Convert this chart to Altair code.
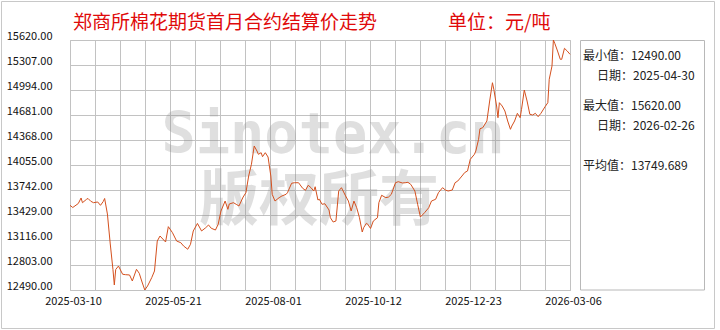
import altair as alt
import pandas as pd

# ---------------- data ----------------
dates = [
    "2025-03-10", "2025-03-12", "2025-03-16", "2025-03-18", "2025-03-19", "2025-03-22", "2025-03-23", "2025-03-25", "2025-03-27", "2025-03-30",
    "2025-04-01", "2025-04-03", "2025-04-04", "2025-04-06", "2025-04-08", "2025-04-10", "2025-04-11", "2025-04-12", "2025-04-14", "2025-04-17",
    "2025-04-19", "2025-04-22", "2025-04-24", "2025-04-27", "2025-04-29", "2025-05-01", "2025-05-03", "2025-05-05", "2025-05-08", "2025-05-10",
    "2025-05-12", "2025-05-14", "2025-05-18", "2025-05-20", "2025-05-23", "2025-05-26", "2025-05-29", "2025-05-31", "2025-06-03", "2025-06-05",
    "2025-06-07", "2025-06-10", "2025-06-13", "2025-06-16", "2025-06-18", "2025-06-20", "2025-06-23", "2025-06-25", "2025-06-27", "2025-06-30",
    "2025-07-02", "2025-07-03", "2025-07-06", "2025-07-08", "2025-07-10", "2025-07-13", "2025-07-15", "2025-07-17", "2025-07-19", "2025-07-21",
    "2025-07-23", "2025-07-24", "2025-07-26", "2025-07-27", "2025-07-29", "2025-07-31", "2025-08-02", "2025-08-03", "2025-08-05", "2025-08-08",
    "2025-08-10", "2025-08-13", "2025-08-14", "2025-08-17", "2025-08-19", "2025-08-22", "2025-08-25", "2025-08-27", "2025-08-29", "2025-08-31",
    "2025-09-02", "2025-09-03", "2025-09-05", "2025-09-06", "2025-09-08", "2025-09-10", "2025-09-13", "2025-09-14", "2025-09-16", "2025-09-18",
    "2025-09-20", "2025-09-22", "2025-09-25", "2025-09-27", "2025-09-29", "2025-10-01", "2025-10-03", "2025-10-05", "2025-10-07", "2025-10-08",
    "2025-10-10", "2025-10-11", "2025-10-13", "2025-10-15", "2025-10-18", "2025-10-19", "2025-10-21", "2025-10-24", "2025-10-26", "2025-10-28",
    "2025-10-31", "2025-11-02", "2025-11-05", "2025-11-07", "2025-11-09", "2025-11-11", "2025-11-14", "2025-11-16", "2025-11-18", "2025-11-21",
    "2025-11-24", "2025-11-26", "2025-11-29", "2025-12-01", "2025-12-04", "2025-12-06", "2025-12-08", "2025-12-11", "2025-12-13", "2025-12-15",
    "2025-12-18", "2025-12-20", "2025-12-22", "2025-12-24", "2025-12-27", "2025-12-28", "2025-12-30", "2025-12-31", "2026-01-02", "2026-01-05",
    "2026-01-07", "2026-01-09", "2026-01-10", "2026-01-12", "2026-01-13", "2026-01-14", "2026-01-16", "2026-01-18", "2026-01-20", "2026-01-22",
    "2026-01-23", "2026-01-25", "2026-01-27", "2026-01-29", "2026-01-30", "2026-02-01", "2026-02-03", "2026-02-05", "2026-02-07", "2026-02-09",
    "2026-02-11", "2026-02-13", "2026-02-16", "2026-02-18", "2026-02-19", "2026-02-21", "2026-02-22", "2026-02-23", "2026-02-25", "2026-02-27",
    "2026-02-28", "2026-03-02", "2026-03-04", "2026-03-06",
]

prices = [
    13550, 13523, 13573, 13642, 13583, 13626, 13636, 13601, 13583, 13592,
    13550, 13598, 13636, 13442, 13078, 12749, 12553, 12747, 12790, 12687,
    12682, 12678, 12603, 12749, 12699, 12590, 12490, 12540, 12644, 12728,
    13103, 13166, 13091, 13283, 13207, 13103, 13082, 13041, 13000, 13062,
    13229, 13323, 13229, 13270, 13304, 13263, 13241, 13313, 13479, 13604,
    13500, 13567, 13583, 13563, 13542, 13654, 13708, 13917, 14064, 14293,
    14230, 14189, 14209, 14159, 14209, 14155, 13917, 13688, 13604, 13646,
    13667, 13688, 13708, 13826, 13833, 13833, 13763, 13738, 13801, 13771,
    13729, 13783, 13617, 13626, 13563, 13570, 13492, 13395, 13341, 13354,
    13729, 13771, 13667, 13604, 13479, 13604, 13520, 13395, 13216, 13270,
    13325, 13313, 13260, 13354, 13395, 13583, 13676, 13646, 13654, 13688,
    13833, 13846, 13830, 13833, 13838, 13813, 13729, 13563, 13404, 13458,
    13520, 13604, 13626, 13708, 13771, 13742, 13729, 13742, 13833, 13855,
    13917, 13961, 13980, 14126, 14189, 14230, 14377, 14509, 14522, 14606,
    14856, 15085, 15003, 14794, 14647, 14835, 14794, 14731, 14606, 14502,
    14543, 14606, 14702, 14647, 14752, 14994, 14856, 14690, 14681, 14702,
    14660, 14702, 14785, 14835, 15128, 15294, 15620, 15579, 15482, 15378,
    15378, 15516, 15482, 15441,
]

y_ticks = [12490, 12803, 13116, 13429, 13742, 14055, 14368, 14681, 14994, 15307, 15620]
x_tick_labels = ["2025-03-10", "2025-05-21", "2025-08-01", "2025-10-12", "2025-12-23", "2026-03-06"]

title_text = "郑商所棉花期货首月合约结算价走势"
unit_text = "单位：元/吨"
stat_names = ["最小值：", "日期：", "最大值：", "日期：", "平均值："]
stat_values = ["12490.00", "2025-04-30", "15620.00", "2026-02-26", "13749.689"]
watermark_lines = ["Sinotex.cn", "版权所有"]

# ---------------- styling ----------------
FONT = "Noto Sans CJK SC"
LINE_COLOR = "#d4501e"
RED = "#e00a0a"
GRID = "#c2c2c2"

df = pd.DataFrame({"date": dates, "price": prices})


def ms(s):
    return int(pd.Timestamp(s, tz="UTC").value // 10**6)


t0, t1 = ms(x_tick_labels[0]), ms(x_tick_labels[-1])
n_grid = 20
per_label = n_grid // (len(x_tick_labels) - 1)
grid_vals = [t0 + (t1 - t0) * i / n_grid for i in range(n_grid + 1)]

x_scale = alt.Scale(type="utc", domain=[t0, t1], nice=False)
y_scale = alt.Scale(domain=[y_ticks[0], y_ticks[-1]], nice=False, zero=False)

x_axis = alt.Axis(
    values=grid_vals, format="%Y-%m-%d", title=None, grid=True, gridColor=GRID,
    ticks=False, domain=False, labelPadding=5, labelFontSize=11, labelFont=FONT,
    labelColor="#111111", labelOffset=3, labelFlush=False, labelOverlap=False,
    labelExpr=f"(round(datum.index * {n_grid}) % {per_label} == 0) ? datum.label : ''",
)
y_axis = alt.Axis(
    values=y_ticks, format=".2f", title=None, grid=True, gridColor=GRID,
    ticks=False, domain=False, labelPadding=18, labelFontSize=11, labelFont=FONT,
    labelColor="#111111", labelOffset=-4, labelFlush=False, labelOverlap=False,
)

one = alt.Data(values=[{}])


def txt(text, x, y, size, color, align="left", font=FONT, weight="normal",
        opacity=1.0, baseline="middle"):
    return alt.Chart(one).mark_text(
        text=text, align=align, baseline=baseline, fontSize=size, color=color,
        font=font, fontWeight=weight, opacity=opacity,
    ).encode(x=alt.value(x), y=alt.value(y))


watermark1 = txt(watermark_lines[0], 263, 113, 57, "#8a8a8a", align="center",
                 font="DejaVu Sans Mono", weight="bold", opacity=0.27,
                 baseline="alphabetic")
watermark2 = txt(watermark_lines[1], 249, 162, 60, "#8a8a8a", align="center",
                 weight="bold", opacity=0.27)

line = alt.Chart(df).mark_line(color=LINE_COLOR, strokeWidth=1).encode(
    x=alt.X("date:T", scale=x_scale, axis=x_axis),
    y=alt.Y("price:Q", scale=y_scale, axis=y_axis),
)

outer = alt.Chart(one).mark_rect(filled=False, stroke="#c8c8c8", strokeWidth=1).encode(
    x=alt.value(-68.5), x2=alt.value(644.5), y=alt.value(-38.5), y2=alt.value(288.5)
)
side_box = alt.Chart(one).mark_rect(filled=False, stroke="#b8b8b8", strokeWidth=1).encode(
    x=alt.value(510.5), x2=alt.value(634.5), y=alt.value(0.5), y2=alt.value(250)
)

title = txt(title_text, 3, -17, 19, RED)
unit = txt(unit_text, 378, -17, 19, RED)

stat_x = [513, 527, 513, 527, 513]
stat_y = [16, 36, 66, 86, 126]
stats = [
    txt(stat_names[i] + stat_values[i], stat_x[i], stat_y[i], 12, "#222222")
    for i in range(len(stat_names))
]

chart = alt.layer(
    watermark1, watermark2, line, outer, side_box, title, unit, *stats
).properties(
    width=500, height=250,
    autosize=alt.AutoSizeParams(type="none"),
    padding={"left": 70, "top": 40, "right": 150, "bottom": 40},
    background="white",
).configure_view(stroke=GRID, strokeWidth=1)

chart.save("out.html", embed_options={"renderer": "svg", "actions": False})
